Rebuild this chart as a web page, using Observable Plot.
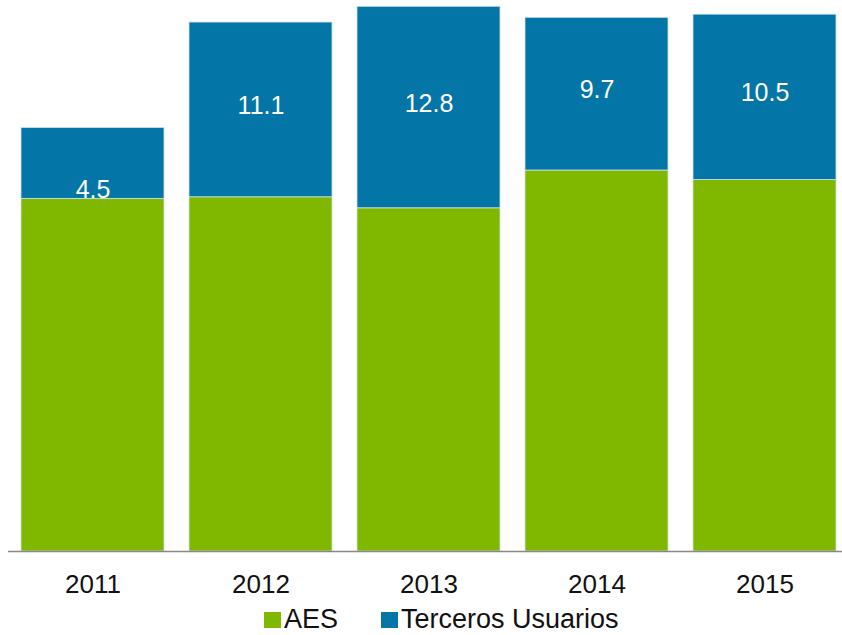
<!DOCTYPE html>
<html>
<head>
<meta charset="utf-8">
<script src="https://cdn.jsdelivr.net/npm/d3@7"></script>
<script src="https://cdn.jsdelivr.net/npm/@observablehq/plot@0.6"></script>
<style>
  html, body { margin: 0; padding: 0; background: #fff; }
  body { width: 842px; height: 635px; overflow: hidden; font-family: "Liberation Sans", Arial, sans-serif; }
  #chart svg { display: block; }
  #legend { display: flex; align-items: baseline; height: 28px; line-height: 28px; font-size: 27px; color: #111; padding-left: 264px; white-space: nowrap; }
  .sw { display: inline-block; width: 17px; height: 16px; margin-right: 3px; }
  .item { display: inline-flex; align-items: baseline; }
</style>
</head>
<body>
<div id="chart"></div>
<div id="legend"></div>
<script>
const years = ["2011", "2012", "2013", "2014", "2015"];
const aes = [22.4, 22.5, 21.8, 24.2, 23.6];
const terceros = [4.5, 11.1, 12.8, 9.7, 10.5];
const seriesNames = ["AES", "Terceros Usuarios"];
const seriesColors = ["#80B800", "#0475A7"];

const rows = [];
years.forEach((y, i) => {
  rows.push({year: y, serie: seriesNames[0], value: aes[i]});
  rows.push({year: y, serie: seriesNames[1], value: terceros[i]});
});
const isBlue = d => d.serie === seriesNames[1];
const fmt = d => d.value.toFixed(1);

const plot = Plot.plot({
  width: 842,
  height: 605,
  marginLeft: 8,
  marginRight: 0,
  marginTop: 0,
  marginBottom: 54,
  style: {fontFamily: "'Liberation Sans', Arial, sans-serif", background: "#fff"},
  x: {domain: years, paddingInner: 0.149, paddingOuter: 0.0565, align: 0.684, label: null},
  y: {domain: [0, 35], axis: null},
  color: {domain: seriesNames, range: seriesColors},
  marks: [
    Plot.barY(rows, Plot.stackY({x: "year", y: "value", fill: "serie", stroke: "#cfe2ec", strokeWidth: 0.8})),
    Plot.text(rows, Plot.stackY({x: "year", y: "value", text: d => (isBlue(d) && d.year !== years[0]) ? fmt(d) : null, fill: "white", fontSize: 25, dy: -4})),
    Plot.text(rows, Plot.stackY1({x: "year", y: "value", text: d => (isBlue(d) && d.year === years[0]) ? fmt(d) : null, fill: "white", fontSize: 25, dy: -9})),
    Plot.ruleY([0], {stroke: "#898989", strokeWidth: 1.5}),
    Plot.axisX({tickSize: 0, tickPadding: 23, fontSize: 26, color: "#111", label: null})
  ]
});
document.getElementById("chart").appendChild(plot);

const legend = document.getElementById("legend");
seriesNames.forEach((name, i) => {
  const item = document.createElement("span");
  item.className = "item";
  if (i > 0) item.style.marginLeft = "43px";
  const sw = document.createElement("span");
  sw.className = "sw";
  sw.style.background = seriesColors[i];
  item.appendChild(sw);
  item.appendChild(document.createTextNode(name));
  legend.appendChild(item);
});
</script>
</body>
</html>
